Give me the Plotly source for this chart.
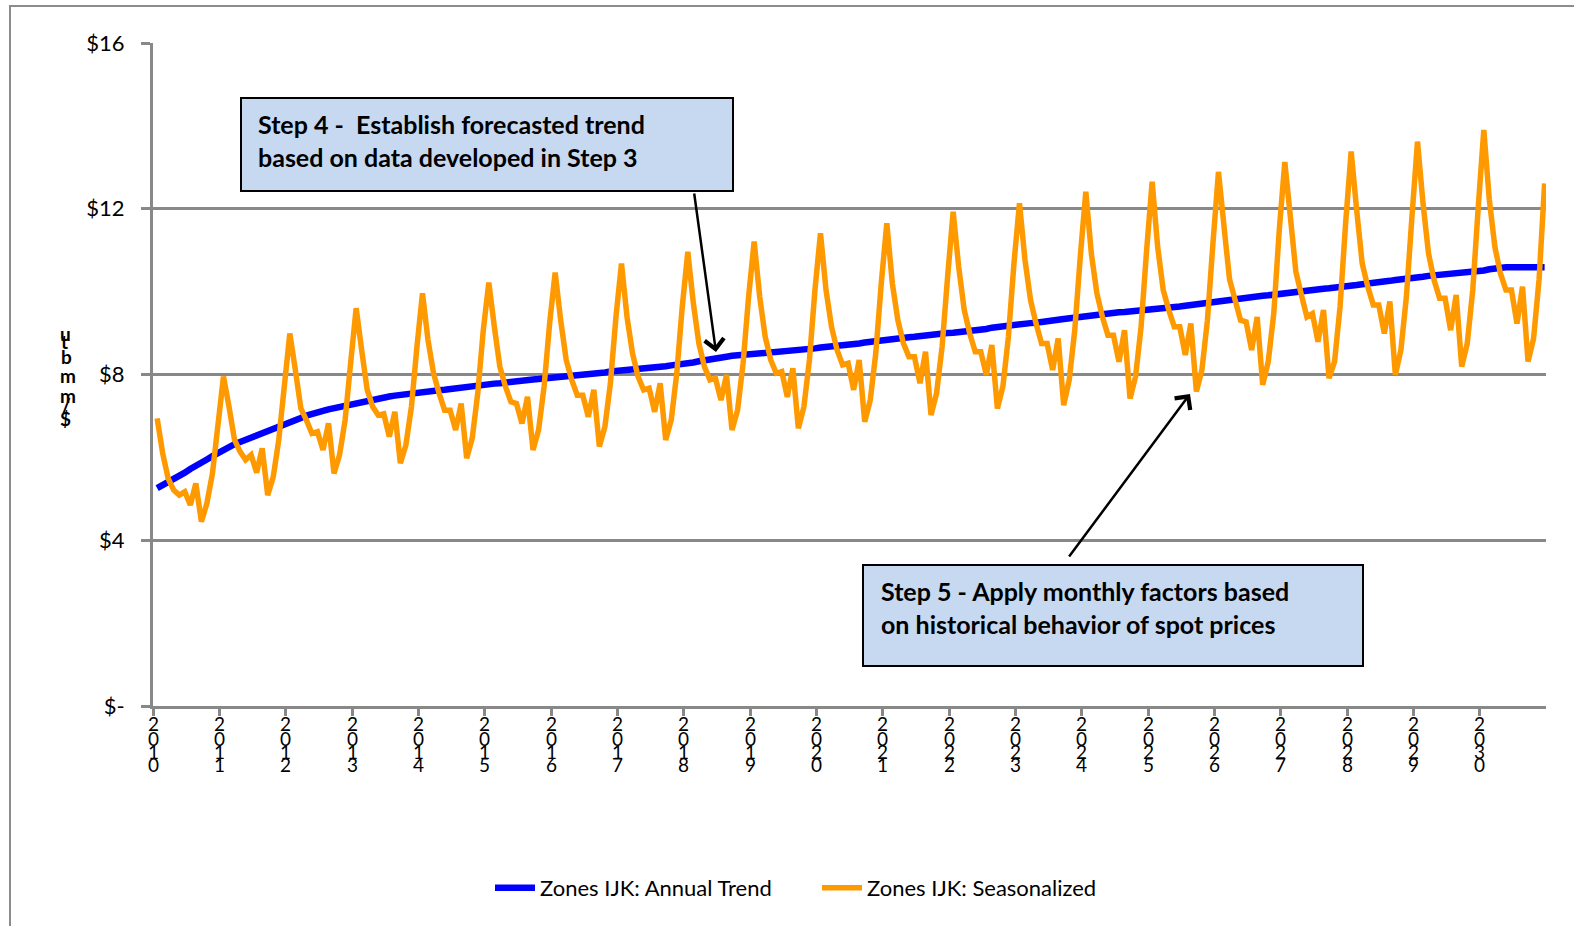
import plotly.graph_objects as go

# ---------------- data ----------------
tick_years = [str(y) for y in range(2010, 2031)]
y_tick_values = [0, 4, 8, 12, 16]
y_tick_labels = ["$-", "$4", "$8", "$12", "$16"]

annual_trend = [
    5.26, 5.33, 5.39, 5.46, 5.54, 5.63, 5.72, 5.81, 5.88, 5.95, 6.03, 6.11,
    6.19, 6.26, 6.32, 6.37, 6.42, 6.47, 6.53, 6.58, 6.63, 6.67, 6.71, 6.78,
    6.85, 6.90, 6.95, 7.01, 7.06, 7.09, 7.12, 7.16, 7.19, 7.23, 7.26, 7.29,
    7.31, 7.34, 7.37, 7.40, 7.42, 7.44, 7.47, 7.49, 7.51, 7.53, 7.55, 7.56,
    7.58, 7.59, 7.60, 7.62, 7.63, 7.65, 7.67, 7.69, 7.71, 7.72, 7.74, 7.75,
    7.77, 7.78, 7.79, 7.81, 7.82, 7.83, 7.85, 7.86, 7.88, 7.89, 7.90, 7.92,
    7.93, 7.94, 7.96, 7.97, 7.98, 8.00, 8.01, 8.03, 8.04, 8.05, 8.07, 8.08,
    8.09, 8.10, 8.12, 8.13, 8.14, 8.15, 8.17, 8.18, 8.20, 8.22, 8.23, 8.25,
    8.27, 8.29, 8.32, 8.35, 8.38, 8.40, 8.42, 8.43, 8.45, 8.46, 8.48, 8.49,
    8.51, 8.52, 8.54, 8.55, 8.56, 8.57, 8.58, 8.59, 8.60, 8.61, 8.62, 8.63,
    8.65, 8.66, 8.67, 8.68, 8.70, 8.71, 8.73, 8.75, 8.77, 8.79, 8.80, 8.82,
    8.84, 8.85, 8.87, 8.88, 8.90, 8.91, 8.93, 8.94, 8.95, 8.97, 8.98, 9.00,
    9.01, 9.02, 9.03, 9.04, 9.06, 9.08, 9.10, 9.13, 9.15, 9.17, 9.19, 9.20,
    9.21, 9.23, 9.24, 9.25, 9.26, 9.28, 9.30, 9.32, 9.34, 9.36, 9.38, 9.39,
    9.41, 9.42, 9.44, 9.45, 9.47, 9.48, 9.50, 9.51, 9.52, 9.54, 9.55, 9.56,
    9.58, 9.59, 9.60, 9.61, 9.63, 9.64, 9.66, 9.68, 9.70, 9.71, 9.73, 9.75,
    9.76, 9.78, 9.79, 9.81, 9.83, 9.85, 9.86, 9.88, 9.90, 9.91, 9.93, 9.95,
    9.96, 9.98, 9.99, 10.01, 10.03, 10.04, 10.05, 10.07, 10.08, 10.09, 10.11, 10.13,
    10.14, 10.16, 10.18, 10.19, 10.21, 10.23, 10.24, 10.26, 10.28, 10.29, 10.31, 10.33,
    10.34, 10.36, 10.38, 10.39, 10.41, 10.42, 10.43, 10.44, 10.45, 10.46, 10.47, 10.48,
    10.51, 10.54, 10.57, 10.58, 10.59, 10.59, 10.59, 10.59, 10.59, 10.59, 10.59, 10.59,
]

seasonalized = [
    6.94, 6.10, 5.49, 5.21, 5.09, 5.17, 4.85, 5.37, 4.45, 4.89, 5.61, 6.85,
    7.95, 7.22, 6.42, 6.14, 5.94, 6.06, 5.63, 6.22, 5.09, 5.53, 6.42, 7.71,
    8.99, 8.11, 7.18, 6.90, 6.58, 6.62, 6.18, 6.82, 5.61, 6.06, 6.90, 8.27,
    9.60, 8.59, 7.63, 7.22, 7.02, 7.05, 6.50, 7.10, 5.86, 6.30, 7.22, 8.67,
    9.96, 8.83, 8.03, 7.55, 7.14, 7.14, 6.66, 7.30, 5.98, 6.46, 7.55, 9.07,
    10.22, 9.15, 8.19, 7.71, 7.34, 7.30, 6.82, 7.46, 6.18, 6.66, 7.71, 9.23,
    10.46, 9.31, 8.35, 7.87, 7.50, 7.50, 6.98, 7.63, 6.26, 6.74, 7.79, 9.39,
    10.68, 9.39, 8.51, 7.95, 7.63, 7.67, 7.10, 7.79, 6.42, 6.90, 8.03, 9.64,
    10.96, 9.72, 8.75, 8.19, 7.87, 7.91, 7.38, 7.99, 6.66, 7.14, 8.27, 9.88,
    11.21, 9.88, 8.91, 8.35, 8.03, 8.07, 7.46, 8.15, 6.70, 7.22, 8.35, 10.04,
    11.41, 10.04, 9.15, 8.59, 8.23, 8.27, 7.63, 8.35, 6.86, 7.38, 8.51, 10.20,
    11.65, 10.20, 9.31, 8.75, 8.43, 8.43, 7.79, 8.55, 7.02, 7.55, 8.67, 10.36,
    11.93, 10.60, 9.56, 8.99, 8.55, 8.55, 7.99, 8.71, 7.18, 7.71, 8.91, 10.68,
    12.13, 10.76, 9.80, 9.23, 8.75, 8.75, 8.11, 8.87, 7.26, 7.87, 9.07, 10.84,
    12.41, 10.92, 9.96, 9.39, 8.95, 8.95, 8.31, 9.07, 7.42, 7.95, 9.15, 11.00,
    12.65, 11.08, 10.04, 9.56, 9.15, 9.15, 8.47, 9.23, 7.59, 8.11, 9.31, 11.17,
    12.89, 11.57, 10.30, 9.80, 9.31, 9.27, 8.59, 9.39, 7.75, 8.31, 9.47, 11.49,
    13.13, 11.81, 10.48, 9.92, 9.39, 9.47, 8.79, 9.56, 7.91, 8.31, 9.64, 11.65,
    13.38, 11.97, 10.68, 10.12, 9.68, 9.68, 8.99, 9.76, 7.99, 8.59, 9.88, 11.81,
    13.62, 12.13, 10.92, 10.28, 9.84, 9.84, 9.07, 9.92, 8.19, 8.75, 10.04, 12.05,
    13.90, 12.21, 11.08, 10.44, 10.04, 10.04, 9.23, 10.12, 8.31, 8.87, 10.30, 12.61,
]

series_names = ["Zones IJK: Annual Trend", "Zones IJK: Seasonalized"]
y_axis_title = "$/mmbtu"

# ---------------- layout helpers ----------------
W, H = 1574, 926
PL, PR, PT, PB = 153, 1546, 43, 706          # plot area in pixels


def px(xp):
    return (xp - PL) / (PR - PL)


def py(yp):
    return (PB - yp) / (PB - PT)


months = list(range(len(seasonalized)))
x_pos = [m + 0.75 for m in months]
tick_vals = [12 * k for k in range(len(tick_years))]

GRID = "#888888"
FONT = "Lato"

fig = go.Figure()
fig.add_trace(go.Scatter(x=x_pos, y=annual_trend, mode="lines", name=series_names[0],
                         line=dict(color="#0000FF", width=6.5), hoverinfo="skip"))
fig.add_trace(go.Scatter(x=x_pos, y=seasonalized, mode="lines", name=series_names[1],
                         line=dict(color="#FF9900", width=5.5), hoverinfo="skip"))

annotations = []

# vertical stacked year labels (each digit its own line, slightly overlapping as in the reference)
digit_rows = [724, 738, 751, 765]
for tv, yr in zip(tick_vals, tick_years):
    for d, row in zip(yr, digit_rows):
        annotations.append(dict(x=tv, y=py(row), xref="x", yref="paper", text=d,
                                showarrow=False, xanchor="center", yanchor="middle",
                                font=dict(family=FONT, size=19, color="#000000")))

# y-axis title, stacked characters as in the reference
title_chars = list(reversed(y_axis_title))  # u t b m m / $
title_pos = [(65, 333), (64, 341), (66, 356), (68, 375), (68, 395), (66, 404), (65, 418)]
for ch, (cx, cy) in zip(title_chars, title_pos):
    annotations.append(dict(x=px(cx), y=py(cy), xref="paper", yref="paper", text="<b>%s</b>" % ch,
                            showarrow=False, xanchor="center", yanchor="middle",
                            font=dict(family=FONT, size=19, color="#000000")))

# text boxes
box_font = dict(family=FONT, size=25, color="#000000")
box1_lines = ["Step 4 -  Establish forecasted trend", "based on data developed in Step 3"]
box2_lines = ["Step 5 - Apply monthly factors based", "on historical behavior of spot prices"]
for line, yy in zip(box1_lines, [124, 157]):
    annotations.append(dict(x=px(256), y=py(yy), xref="paper", yref="paper", text="<b>%s</b>" % line,
                            showarrow=False, xanchor="left", yanchor="middle", font=box_font))
for line, yy in zip(box2_lines, [591, 624]):
    annotations.append(dict(x=px(879), y=py(yy), xref="paper", yref="paper", text="<b>%s</b>" % line,
                            showarrow=False, xanchor="left", yanchor="middle", font=box_font))

# arrows
annotations.append(dict(x=px(716), y=py(352), xref="paper", yref="paper", text="",
                        showarrow=True, arrowhead=4, arrowsize=1.5, arrowwidth=2.5, arrowcolor="#000000",
                        ax=694 - 716, ay=192 - 352, axref="pixel", ayref="pixel"))
annotations.append(dict(x=px(1190), y=py(394), xref="paper", yref="paper", text="",
                        showarrow=True, arrowhead=4, arrowsize=1.5, arrowwidth=2.5, arrowcolor="#000000",
                        ax=1068 - 1190, ay=558 - 394, axref="pixel", ayref="pixel"))

shapes = [
    # outer chart border
    dict(type="rect", xref="paper", yref="paper", x0=px(10), x1=px(1600), y0=py(960), y1=py(6),
         line=dict(color="#8c8c8c", width=2), fillcolor="rgba(0,0,0,0)", layer="below"),
    # text boxes
    dict(type="rect", xref="paper", yref="paper", x0=px(241), x1=px(733), y0=py(191), y1=py(98),
         line=dict(color="#000000", width=2), fillcolor="#C6D9F1", layer="above"),
    dict(type="rect", xref="paper", yref="paper", x0=px(863), x1=px(1363), y0=py(666), y1=py(565),
         line=dict(color="#000000", width=2), fillcolor="#C6D9F1", layer="above"),
]

fig.update_layout(
    width=W, height=H, autosize=False,
    margin=dict(l=PL, r=W - PR, t=PT, b=H - PB, pad=0),
    paper_bgcolor="#FFFFFF", plot_bgcolor="#FFFFFF",
    font=dict(family=FONT, size=22, color="#000000"),
    showlegend=True,
    legend=dict(orientation="h", x=px(490), y=py(888), xanchor="left", yanchor="middle",
                font=dict(family=FONT, size=22, color="#000000"), itemwidth=40,
                entrywidth=272, entrywidthmode="pixels",
                bgcolor="rgba(0,0,0,0)", tracegroupgap=0),
    annotations=annotations,
    shapes=shapes,
)
fig.update_xaxes(range=[0, 252], tickvals=tick_vals, ticktext=[""] * len(tick_vals),
                 showticklabels=False, ticks="outside", ticklen=7, tickwidth=3, tickcolor=GRID,
                 showgrid=False, zeroline=False, showline=True, linecolor=GRID, linewidth=3,
                 fixedrange=True)
fig.update_yaxes(range=[0, 16], tickvals=y_tick_values, ticktext=y_tick_labels,
                 ticks="outside", ticklen=9, tickwidth=3, tickcolor=GRID, ticklabelstandoff=12,
                 showgrid=True, gridcolor=GRID, gridwidth=3, zeroline=False,
                 showline=True, linecolor=GRID, linewidth=3,
                 tickfont=dict(family=FONT, size=22, color="#000000"), fixedrange=True)

fig.write_html("out.html", config={"displayModeBar": False},
               post_script="document.body.style.margin='0';document.body.style.overflow='hidden';")
